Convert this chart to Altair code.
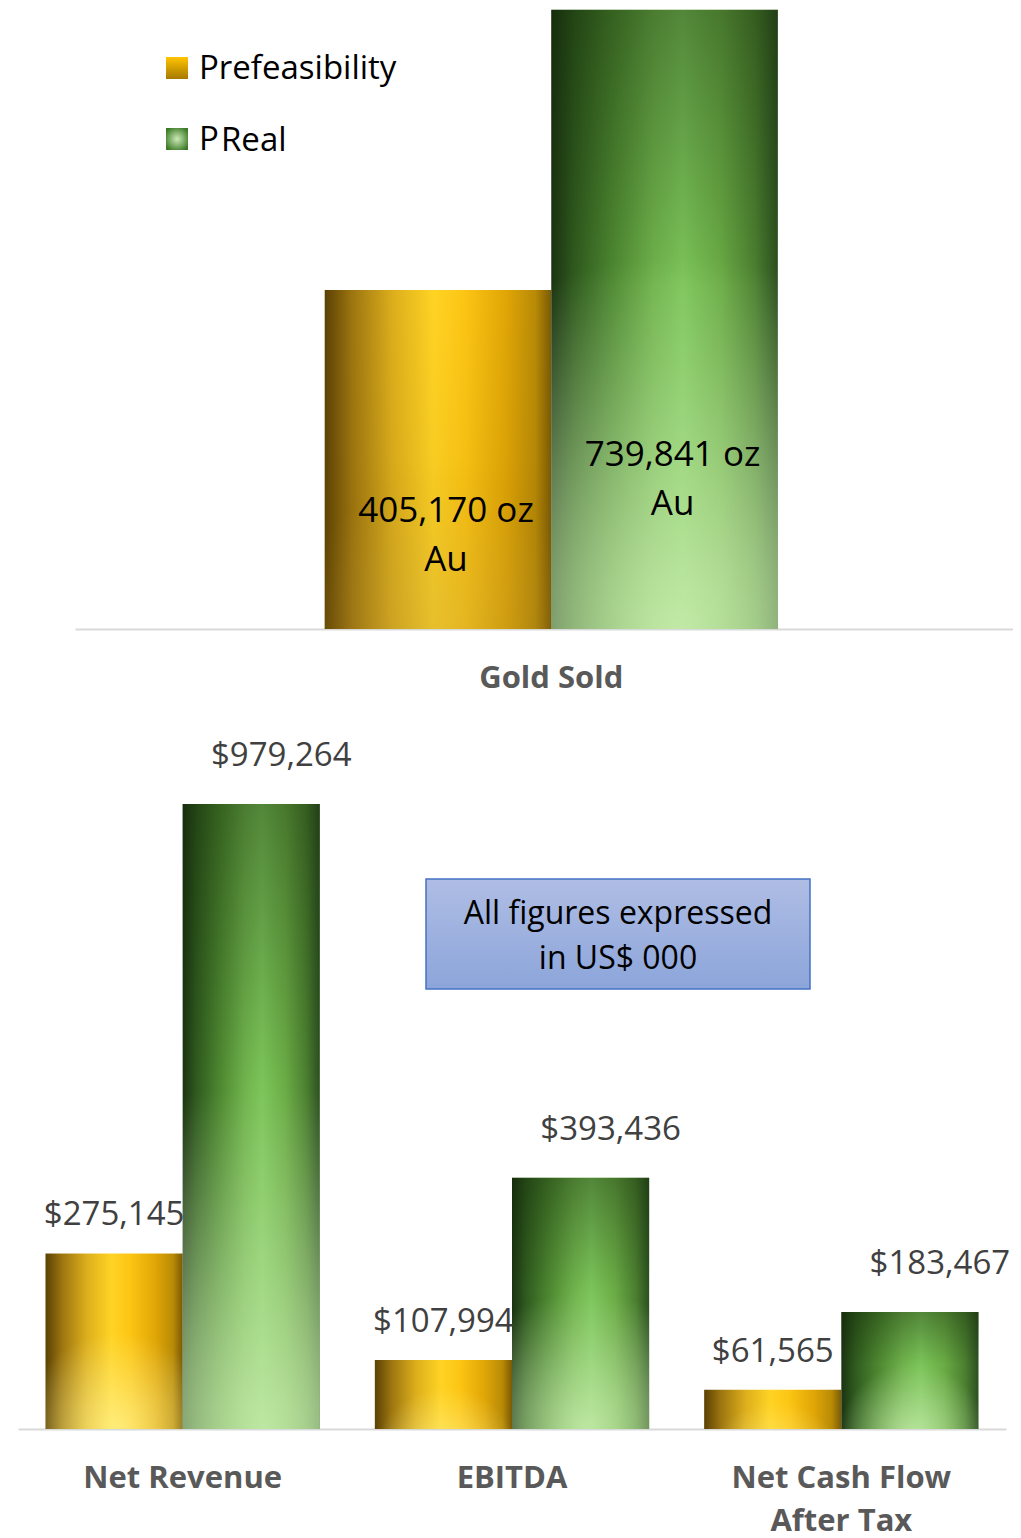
import altair as alt
import pandas as pd

# ---------------- data ----------------
SERIES = ["Prefeasibility", "Real"]
TOP_CATEGORIES = ["Gold Sold"]
TOP_PREFEAS = [405170]
TOP_REAL = [739841]
CATEGORIES = ["Net Revenue", "EBITDA", "Net Cash Flow\nAfter Tax"]
PREFEAS = [275145, 107994, 61565]
REAL = [979264, 393436, 183467]
NOTE = "All figures expressed\nin US$ 000"

FONT = "Open Sans"

top_df = pd.DataFrame({
    "category": TOP_CATEGORIES * 2,
    "series": [SERIES[0]] * len(TOP_CATEGORIES) + [SERIES[1]] * len(TOP_CATEGORIES),
    "value": TOP_PREFEAS + TOP_REAL,
})
bot_df = pd.DataFrame({
    "category": CATEGORIES * 2,
    "series": [SERIES[0]] * len(CATEGORIES) + [SERIES[1]] * len(CATEGORIES),
    "value": PREFEAS + REAL,
})


def stops(pairs):
    return [alt.GradientStop(offset=o, color=c) for o, c in pairs]


def radial(rgb, a0, r2=0.55):
    return alt.RadialGradient(gradient="radial", x1=0.52, y1=1, r1=0, x2=0.52, y2=1, r2=r2,
                              stops=stops([(0.0, f"rgba({rgb},{a0})"),
                                           (0.5, f"rgba({rgb},{a0 / 2})"),
                                           (1.0, f"rgba({rgb},0)")]))


YELLOW = alt.LinearGradient(gradient="linear", x1=0, y1=0, x2=1, y2=0, stops=stops([
    (0.00, "#5a4104"), (0.12, "#9c7510"), (0.30, "#dcae1c"), (0.48, "#ffd324"),
    (0.62, "#fcc514"), (0.80, "#e0a606"), (0.93, "#b88a06"), (1.00, "#7a5a04")]))
GREEN = alt.LinearGradient(gradient="linear", x1=0, y1=0, x2=1, y2=0, stops=stops([
    (0.00, "#1b3312"), (0.10, "#2f5a1e"), (0.28, "#4f8a32"), (0.45, "#6fb24c"),
    (0.58, "#7cc55a"), (0.75, "#6aab45"), (0.90, "#4c8030"), (1.00, "#2c5020")]))
TOP_SHADE = alt.LinearGradient(gradient="linear", x1=0, y1=0, x2=0, y2=1, stops=stops([
    (0.0, "rgba(15,35,5,0.38)"), (0.45, "rgba(15,35,5,0)"), (1.0, "rgba(15,35,5,0)")]))
GOLD_SHADE = alt.LinearGradient(gradient="linear", x1=0, y1=0, x2=0, y2=1, stops=stops([
    (0.0, "rgba(120,80,0,0)"), (0.5, "rgba(120,80,0,0.05)"), (1.0, "rgba(120,80,0,0.22)")]))

LEG_YELLOW = alt.LinearGradient(gradient="linear", x1=0, y1=0, x2=0, y2=1, stops=stops([
    (0.0, "#ffc400"), (1.0, "#a67a00")]))
LEG_GREEN = alt.RadialGradient(gradient="radial", x1=0.5, y1=0.5, r1=0, x2=0.5, y2=0.5, r2=0.6, stops=stops([
    (0.0, "#cdeab8"), (1.0, "#3b7a26")]))
NOTE_FILL = alt.LinearGradient(gradient="linear", x1=0, y1=0, x2=0, y2=1, stops=stops([
    (0.0, "#afbde4"), (1.0, "#8ca5da")]))

xoff = alt.XOffset("series:N", scale=alt.Scale(domain=SERIES, paddingInner=0, paddingOuter=0))


def cat_axis(line_height=43):
    return alt.Axis(title=None, labelFont=FONT, labelFontSize=31, labelFontWeight="bold",
                    labelColor="#595959", ticks=False, domainColor="#d9d9d9", domainWidth=2,
                    labelPadding=34, labelAngle=0, labelLimit=500, grid=False,
                    labelExpr="split(datum.label, '\\n')", labelLineHeight=line_height)


def bar_layers(df, x, y, fills):
    layers = []
    for s, fill_list in zip(SERIES, fills):
        base = alt.Chart(df).transform_filter(alt.datum.series == s)
        for f in fill_list:
            layers.append(base.mark_bar(fill=f, strokeWidth=0).encode(x=x, xOffset=xoff, y=y))
    return layers


# ---------------- top panel ----------------
x_top = alt.X("category:N", scale=alt.Scale(domain=TOP_CATEGORIES, paddingInner=0,
                                             paddingOuter=0.535, align=0.515),
              axis=cat_axis())
y_top_scale = alt.Scale(domain=[0, 742000], nice=False)
y_top = alt.Y("value:Q", scale=y_top_scale, axis=None)

top_layers = bar_layers(top_df, x_top, y_top, [
    [YELLOW, GOLD_SHADE, radial("255,235,120", 0.18, 0.45)],
    [GREEN, TOP_SHADE, radial("205,240,180", 0.85, 0.6)],
])
for s in SERIES:
    top_layers.append(
        alt.Chart(top_df).transform_filter(alt.datum.series == s)
        .transform_calculate(label="format(datum.value, ',') + ' oz\\nAu'", ly="datum.value * 0.2")
        .mark_text(font=FONT, fontSize=35, lineBreak="\n", lineHeight=49, align="center",
                   baseline="middle", dx=8, dy=-50, color="#000000")
        .encode(x=x_top, xOffset=xoff, y=alt.Y("ly:Q", scale=y_top_scale, axis=None),
                text="label:N")
    )

leg1 = pd.DataFrame({"s": [SERIES[0]]})
leg2 = pd.DataFrame({"s": [SERIES[1]]})
leg2p = pd.DataFrame({"s": [SERIES[0][:1]]})
top_layers += [
    alt.Chart(leg1).mark_rect(fill=LEG_YELLOW).encode(
        x=alt.value(91), x2=alt.value(113), y=alt.value(49), y2=alt.value(71)),
    alt.Chart(leg2).mark_rect(fill=LEG_GREEN).encode(
        x=alt.value(91), x2=alt.value(113), y=alt.value(120), y2=alt.value(142)),
    alt.Chart(leg1).mark_text(font=FONT, fontSize=33, align="left", baseline="middle",
                              color="#000000").encode(x=alt.value(124), y=alt.value(61), text="s:N"),
    alt.Chart(leg2p).mark_text(font=FONT, fontSize=33, align="left", baseline="middle",
                               color="#000000").encode(x=alt.value(124), y=alt.value(132), text="s:N"),
    alt.Chart(leg2).mark_text(font=FONT, fontSize=33, align="left", baseline="middle",
                              color="#000000").encode(x=alt.value(146), y=alt.value(133), text="s:N"),
]

top_chart = alt.layer(*top_layers).properties(width=938, height=621)

spacer = alt.Chart(pd.DataFrame({"z": [0]})).mark_point(opacity=0, size=0).encode(
    x=alt.X("z:Q", axis=None), y=alt.Y("z:Q", axis=None)).properties(width=57, height=1)

top_row = alt.hconcat(spacer, top_chart, spacing=0).resolve_scale(
    x="independent", y="independent", xOffset="independent")

# ---------------- bottom panel ----------------
x_bot = alt.X("category:N", scale=alt.Scale(domain=CATEGORIES, paddingInner=0.167,
                                             paddingOuter=0.0835),
              axis=cat_axis())
y_bot_scale = alt.Scale(domain=[0, 1081000], nice=False)
y_bot = alt.Y("value:Q", scale=y_bot_scale, axis=None)

bot_layers = bar_layers(bot_df, x_bot, y_bot, [
    [YELLOW, radial("255,248,160", 0.7)],
    [GREEN, TOP_SHADE, radial("205,240,180", 0.8)],
])
for s, dx, dy in [(SERIES[0], 0, -28), (SERIES[1], 30, -38)]:
    bot_layers.append(
        alt.Chart(bot_df).transform_filter(alt.datum.series == s)
        .transform_calculate(label="'$' + format(datum.value, ',')")
        .mark_text(font=FONT, fontSize=33, align="center", baseline="alphabetic",
                   dx=dx, dy=dy, color="#404040")
        .encode(x=x_bot, xOffset=xoff, y=y_bot, text="label:N")
    )

note_df = pd.DataFrame({"note": [NOTE]})
bot_layers += [
    alt.Chart(note_df).mark_rect(fill=NOTE_FILL, stroke="#4472c4", strokeWidth=1.5).encode(
        x=alt.value(408), x2=alt.value(792), y=alt.value(140), y2=alt.value(250)),
    alt.Chart(note_df).mark_text(font=FONT, fontSize=32, lineBreak="\n", lineHeight=45,
                                 align="center", baseline="middle", color="#000000").encode(
        x=alt.value(600), y=alt.value(175), text="note:N"),
]

bottom_chart = alt.layer(*bot_layers).properties(width=988, height=690)

chart = alt.vconcat(top_row, bottom_chart, spacing=46).resolve_scale(
    x="independent", y="independent", xOffset="independent"
).properties(
    padding={"left": 10, "top": 0, "right": 0, "bottom": 0},
    background="#ffffff",
).configure_view(stroke=None)

chart.save("out.html", embed_options={"renderer": "svg", "actions": False})
